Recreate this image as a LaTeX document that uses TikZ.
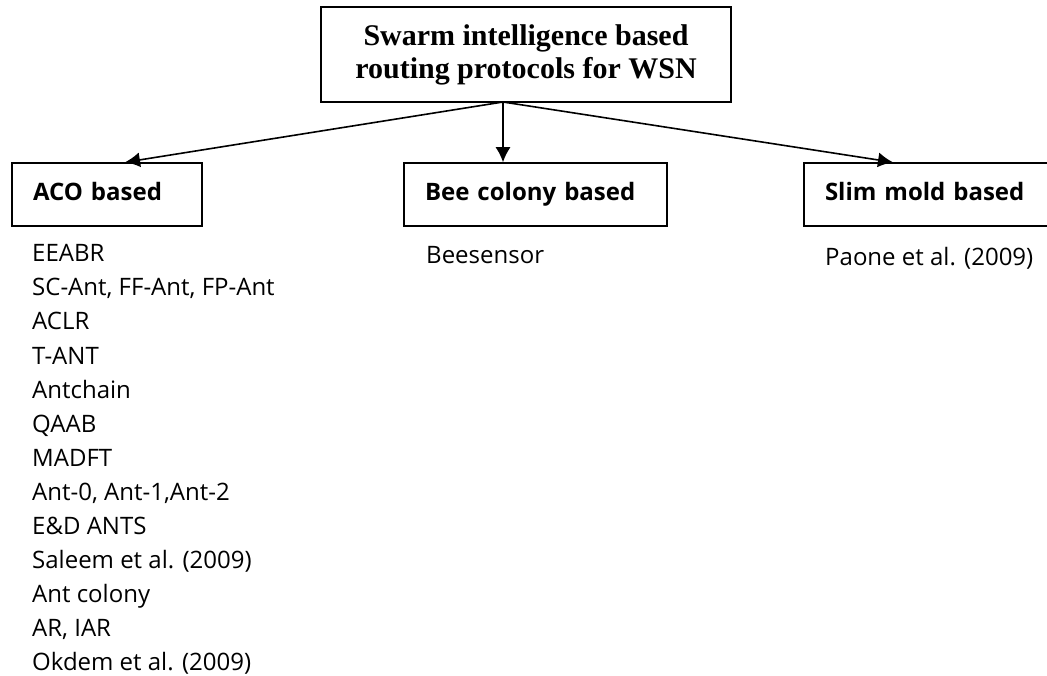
\documentclass[tikz,border=0pt]{standalone}
\usepackage{fontspec}
\setmainfont{Liberation Serif}
\newfontfamily\osans{Open Sans}
\usetikzlibrary{arrows.meta}
\tikzstyle{ndtop} = [draw, line width=1.5pt, shape=rectangle, minimum width=410pt, minimum height=95pt, inner sep=0pt, align=center, font=\bfseries\fontsize{30}{33}\selectfont]
\tikzstyle{ndcat} = [draw, line width=1.5pt, shape=rectangle, minimum height=63pt, inner xsep=21pt, inner ysep=0pt, align=left, text height=18pt, text depth=5pt, font=\osans\bfseries\fontsize{24}{28}\selectfont]
\tikzstyle{ndlist} = [anchor=base west, inner sep=0pt, font=\osans\fontsize{24}{28}\selectfont]
\tikzstyle{arcat} = [style={-{Latex[length=15pt,width=15pt]},line width=1.6pt}]

\begin{document}
\begin{tikzpicture}[x=1pt, y=-1pt]
	\useasboundingbox (0,0) rectangle (1047,676);
	\node[ndtop] (v0) at (526,54.5) {Swarm intelligence based\\routing protocols for WSN};
	\coordinate (fork) at (503,102);
	\node[ndcat, text width=148pt] (v1) at (107,194.5) {ACO based};
	\node[ndcat, text width=221pt] (v2) at (535.5,194.5) {Bee colony based};
	\node[ndcat, text width=204pt] (v3) at (927,194.5) {Slim mold based};
	\draw[arcat] (fork) to ([xshift=18pt]v1.north);
	\draw[arcat] (fork) to (v2.north -| fork);
	\draw[arcat] (fork) to ([xshift=-34pt]v3.north);
	% ACO based protocols
	\node[ndlist] (a1) at (32,262) {EEABR};
	\node[ndlist] (a2) at (32,296) {SC-Ant, FF-Ant, FP-Ant};
	\node[ndlist] (a3) at (32,330) {ACLR};
	\node[ndlist] (a4) at (32,364) {T-ANT};
	\node[ndlist] (a5) at (32,398) {Antchain};
	\node[ndlist] (a6) at (32,432) {QAAB};
	\node[ndlist] (a7) at (32,466) {MADFT};
	\node[ndlist] (a8) at (32,500) {Ant-0, Ant-1,Ant-2};
	\node[ndlist] (a9) at (32,534) {E\&D ANTS};
	\node[ndlist] (a10) at (32,568) {Saleem et al. (2009)};
	\node[ndlist] (a11) at (32,602) {Ant colony};
	\node[ndlist] (a12) at (32,636) {AR, IAR};
	\node[ndlist] (a13) at (32,670) {Okdem et al. (2009)};
	% bee colony and slime mold
	\node[ndlist] (b1) at (426,264) {Beesensor};
	\node[ndlist] (s1) at (825,266) {Paone et al. (2009)};
\end{tikzpicture}
\end{document}
